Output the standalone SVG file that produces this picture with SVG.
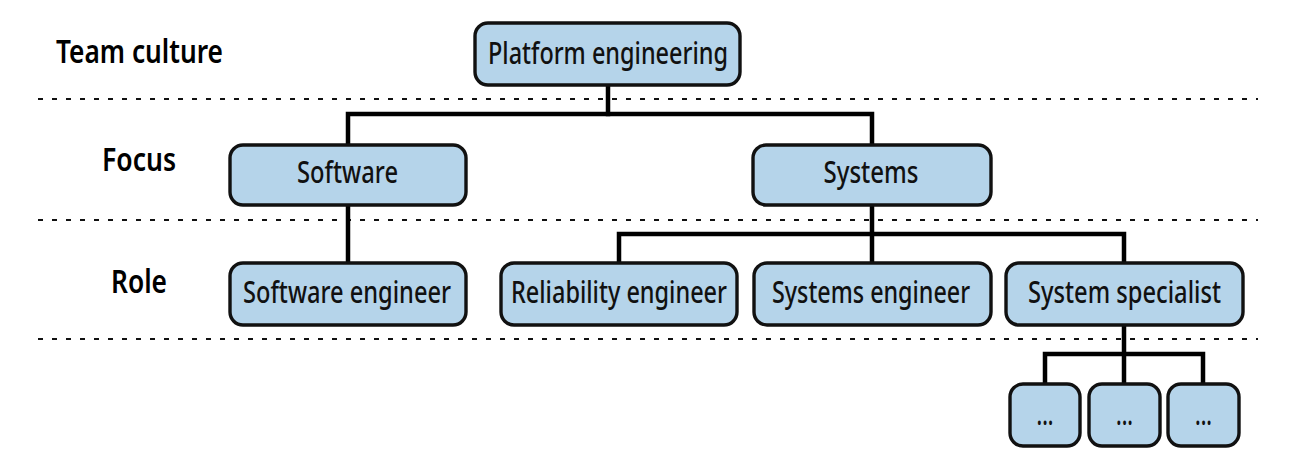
<svg xmlns="http://www.w3.org/2000/svg" width="1296" height="470" viewBox="0 0 1296 470">
<style>
.bg{fill:#ffffff}
.box{fill:#b5d4ea;stroke:#111111;stroke-width:3.4}
.sep{stroke:#111111;stroke-width:2.2;stroke-dasharray:5 9;fill:none}
.con{stroke:#000000;stroke-width:4.5;fill:none;stroke-linecap:square}
.t{font-family:"Noto Sans","Liberation Sans",sans-serif;font-size:30.5px;font-weight:500;fill:#111111;text-anchor:middle}
.lbl{font-family:"Noto Sans","Liberation Sans",sans-serif;font-size:32px;font-weight:600;fill:#000000}
</style>
<rect class="bg" x="0" y="0" width="1296" height="470"/>
<g id="separators">
<line class="sep" x1="38" y1="99" x2="1258" y2="99"/>
<line class="sep" x1="38" y1="220" x2="1258" y2="220"/>
<line class="sep" x1="38" y1="339" x2="1258" y2="339"/>
</g>
<g id="labels">
<text class="lbl" x="56" y="63" textLength="167" lengthAdjust="spacingAndGlyphs">Team culture</text>
<text class="lbl" x="102" y="171" textLength="74" lengthAdjust="spacingAndGlyphs">Focus</text>
<text class="lbl" x="111" y="293" textLength="56" lengthAdjust="spacingAndGlyphs">Role</text>
</g>
<g id="connectors">
<polyline class="con" points="608,85 608,114"/>
<polyline class="con" points="348,145 348,114 872,114 872,145"/>
<polyline class="con" points="348,205 348,263"/>
<polyline class="con" points="872,205 872,263"/>
<polyline class="con" points="619,263 619,234 1124,234 1124,263"/>
<polyline class="con" points="1124,325 1124,384"/>
<polyline class="con" points="1045,384 1045,354 1203,354 1203,384"/>
</g>
<g id="platform-engineering">
<rect class="box" x="475" y="23" width="265" height="62" rx="13"/>
<text class="t" x="608" y="64" textLength="240" lengthAdjust="spacingAndGlyphs">Platform engineering</text>
</g>
<g id="software">
<rect class="box" x="230" y="145" width="236" height="60" rx="13"/>
<text class="t" x="347.5" y="183" textLength="101" lengthAdjust="spacingAndGlyphs">Software</text>
</g>
<g id="systems">
<rect class="box" x="753" y="145" width="238" height="60" rx="13"/>
<text class="t" x="871" y="183" textLength="95" lengthAdjust="spacingAndGlyphs">Systems</text>
</g>
<g id="software-engineer">
<rect class="box" x="230" y="263" width="236" height="62" rx="13"/>
<text class="t" x="347" y="303" textLength="208" lengthAdjust="spacingAndGlyphs">Software engineer</text>
</g>
<g id="reliability-engineer">
<rect class="box" x="501" y="263" width="236" height="62" rx="13"/>
<text class="t" x="619" y="303" textLength="216" lengthAdjust="spacingAndGlyphs">Reliability engineer</text>
</g>
<g id="systems-engineer">
<rect class="box" x="754" y="263" width="237" height="62" rx="13"/>
<text class="t" x="871" y="303" textLength="198" lengthAdjust="spacingAndGlyphs">Systems engineer</text>
</g>
<g id="system-specialist">
<rect class="box" x="1006" y="263" width="237" height="62" rx="13"/>
<text class="t" x="1124.5" y="303" textLength="193" lengthAdjust="spacingAndGlyphs">System specialist</text>
</g>
<g id="sub-1">
<rect class="box" x="1010" y="384" width="70" height="62" rx="13"/>
<text class="t" x="1045" y="425" textLength="17" lengthAdjust="spacingAndGlyphs">...</text>
</g>
<g id="sub-2">
<rect class="box" x="1089" y="384" width="71" height="62" rx="13"/>
<text class="t" x="1124.5" y="425" textLength="17" lengthAdjust="spacingAndGlyphs">...</text>
</g>
<g id="sub-3">
<rect class="box" x="1168" y="384" width="71" height="62" rx="13"/>
<text class="t" x="1203.5" y="425" textLength="17" lengthAdjust="spacingAndGlyphs">...</text>
</g>
</svg>
